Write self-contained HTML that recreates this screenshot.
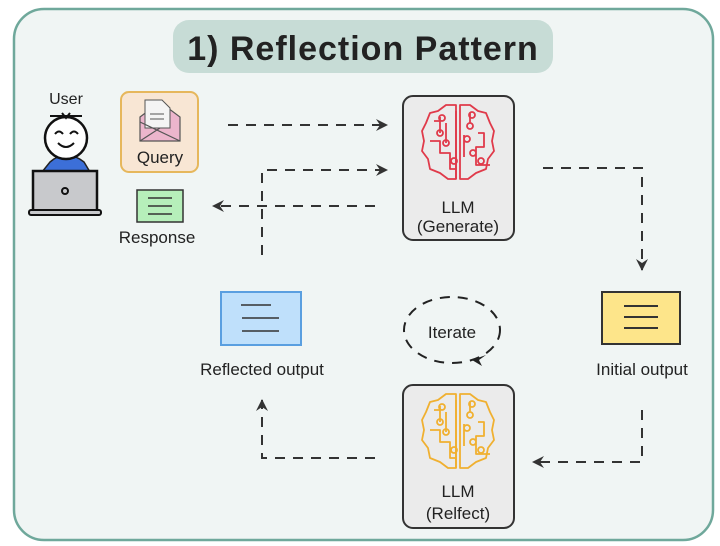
<!DOCTYPE html>
<html><head><meta charset="utf-8"><style>
html,body{margin:0;padding:0;background:#fff;}
svg{display:block;}
text{font-family:"Comic Sans MS","Liberation Sans",sans-serif;fill:#222;}
</style></head><body>
<svg width="720" height="546" viewBox="0 0 720 546" xmlns="http://www.w3.org/2000/svg">
<defs>
<marker id="ah" markerWidth="14" markerHeight="14" refX="11" refY="7" orient="auto" markerUnits="userSpaceOnUse">
<path d="M0,1 L12,7 L0,13 L4,7 Z" fill="#333"/>
</marker>
<g id="brain" fill="none" stroke-width="1.8" stroke-linejoin="round">
<path d="M36,2 L26,2 L18,8 L10,10 L6,20 L2,28 L4,38 L2,48 L8,56 L10,66 L20,70 L28,76 L36,76 Z"/>
<path d="M40,2 L50,2 L58,8 L66,10 L70,20 L74,28 L72,38 L74,48 L68,56 L66,66 L56,70 L48,76 L40,76 Z"/>
<path d="M14,18 L20,18 M20,14 L20,30 M10,38 L20,38 L20,50 L30,50 L30,66 L36,66 M26,20 L26,40 M26,40 m-3,0 a3,3 0 1,0 6,0 a3,3 0 1,0 -6,0 M20,30 m-3,0 a3,3 0 1,0 6,0 a3,3 0 1,0 -6,0"/>
<path d="M50,10 L50,20 M50,20 m-3,3 a3,3 0 1,0 6,0 a3,3 0 1,0 -6,0 M44,32 L44,54 M44,36 m0,0 a3,3 0 1,0 6,0 a3,3 0 1,0 -6,0 M58,30 L64,30 L64,44 L56,44 L56,62 L70,62 M50,50 a3,3 0 1,0 6,0 a3,3 0 1,0 -6,0 M58,58 a3,3 0 1,0 6,0 a3,3 0 1,0 -6,0 M36,8 L36,76"/>
<circle cx="22" cy="15" r="3"/><circle cx="52" cy="12" r="3"/><circle cx="34" cy="58" r="3"/>
</g>
</defs>
<rect x="14" y="9" width="699" height="531" rx="30" fill="#f0f5f4" stroke="#6fa89b" stroke-width="2.5"/>
<rect x="173" y="20" width="380" height="53" rx="16" fill="#c7dcd6"/>
<text x="363" y="60" font-size="34" text-anchor="middle" font-weight="bold" letter-spacing="1" fill="#222">1) Reflection Pattern</text>

<!-- User -->
<text x="66" y="104" font-size="16" text-anchor="middle">User</text>
<path d="M50,162 Q66,148 84,162 L90,172 L42,172 Z" fill="#3c6fd8" stroke="#222" stroke-width="1.5"/>
<circle cx="66" cy="138" r="21" fill="#fff" stroke="#111" stroke-width="2.5"/>
<path d="M50,116 L82,116 M62,113 L66,118 L70,113" stroke="#111" stroke-width="2" fill="none"/>
<path d="M55,134 q4,-5 8,0 M70,134 q4,-5 8,0 M58,143 q8,8 16,0" stroke="#111" stroke-width="2" fill="none"/>
<rect x="33" y="171" width="64" height="40" fill="#c8c9cc" stroke="#111" stroke-width="2.5"/>
<circle cx="65" cy="191" r="3" fill="none" stroke="#111" stroke-width="2"/>
<rect x="29" y="210" width="72" height="5" rx="2" fill="#c8c9cc" stroke="#111" stroke-width="2"/>

<!-- Query -->
<rect x="121" y="92" width="77" height="80" rx="8" fill="#f8e6d4" stroke="#e6b75c" stroke-width="2"/>
<path d="M140,117 L160,102 L180,117 L180,141 L140,141 Z" fill="#ecb5cc" stroke="#555" stroke-width="1.2"/>
<path d="M145,100 L162,100 L170,108 L170,128 L145,128 Z" fill="#f4f4f4" stroke="#555" stroke-width="1"/>
<path d="M150,114 L164,114 M150,119 L164,119" stroke="#555"/>
<path d="M140,122 L180,141 M140,141 L160,128" stroke="#555" stroke-width="1.2" fill="none"/>
<text x="160" y="163" font-size="17" text-anchor="middle">Query</text>

<!-- Response -->
<rect x="137" y="190" width="46" height="32" fill="#b6efba" stroke="#333" stroke-width="1.5"/>
<path d="M148,198 L172,198 M148,206 L172,206 M148,214 L172,214" stroke="#333" stroke-width="1.5"/>
<text x="157" y="243" font-size="17" text-anchor="middle">Response</text>

<!-- LLM Generate -->
<rect x="403" y="96" width="111" height="144" rx="10" fill="#ebebeb" stroke="#333" stroke-width="2"/>
<use href="#brain" x="420" y="103" stroke="#e03a4a"/>
<text x="458" y="213" font-size="17" text-anchor="middle">LLM</text>
<text x="458" y="232" font-size="17" text-anchor="middle">(Generate)</text>

<!-- LLM Reflect -->
<rect x="403" y="385" width="111" height="143" rx="10" fill="#ebebeb" stroke="#333" stroke-width="2"/>
<use href="#brain" x="420" y="392" stroke="#f0b030"/>
<text x="458" y="497" font-size="17" text-anchor="middle">LLM</text>
<text x="458" y="519" font-size="17" text-anchor="middle">(Relfect)</text>

<!-- Initial output -->
<rect x="602" y="292" width="78" height="52" fill="#fde58a" stroke="#333" stroke-width="2"/>
<path d="M624,306 L658,306 M624,317 L658,317 M624,328 L658,328" stroke="#333" stroke-width="2"/>
<text x="642" y="375" font-size="17" text-anchor="middle">Initial output</text>

<!-- Reflected output -->
<rect x="221" y="292" width="80" height="53" fill="#bfe0fb" stroke="#5a9fe0" stroke-width="2"/>
<path d="M241,305 L271,305 M242,318 L279,318 M242,331 L279,331" stroke="#333" stroke-width="1.5"/>
<text x="262" y="375" font-size="17" text-anchor="middle">Reflected output</text>

<!-- Iterate -->
<ellipse cx="452" cy="330" rx="48" ry="33" fill="none" stroke="#222" stroke-width="2" stroke-dasharray="10,8"/>
<text x="452" y="338" font-size="17" text-anchor="middle">Iterate</text>
<path d="M486,355 L472,360 L482,366 L479,360 Z" fill="#222"/>

<!-- Connectors -->
<g stroke="#333" stroke-width="2" fill="none" stroke-dasharray="10,8">
<path d="M228,125 L387,125" marker-end="url(#ah)"/>
<path d="M262,255 L262,170 L387,170" marker-end="url(#ah)"/>
<path d="M375,206 L213,206" marker-end="url(#ah)"/>
<path d="M543,168 L642,168 L642,270" marker-end="url(#ah)"/>
<path d="M642,410 L642,462 L533,462" marker-end="url(#ah)"/>
<path d="M375,458 L262,458 L262,400" marker-end="url(#ah)"/>
</g>
</svg>
</body></html>
